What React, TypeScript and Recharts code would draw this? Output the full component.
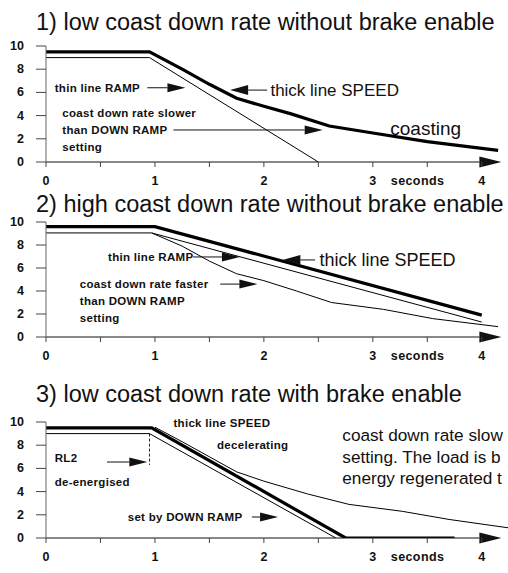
import React from 'react';
import { LineChart, Line, XAxis, YAxis, ReferenceLine, ReferenceDot } from 'recharts';

// time axis (seconds) and speed axis
const xTicks = [0, 0.5, 1, 1.5, 2, 2.5, 3, 3.5, 4];
const yTicks = [0, 2, 4, 6, 8, 10];

// 1) low coast down rate without brake enable
const speed1 = [
  { t: 0, v: 9.5 }, { t: 0.95, v: 9.5 }, { t: 1.25, v: 8.0 }, { t: 1.5, v: 6.7 },
  { t: 1.75, v: 5.5 }, { t: 2.0, v: 4.8 }, { t: 2.25, v: 4.15 }, { t: 2.6, v: 3.1 },
  { t: 3.0, v: 2.5 }, { t: 3.5, v: 1.75 }, { t: 4.15, v: 1.0 },
];
const ramp1 = [{ t: 0, v: 9.0 }, { t: 0.95, v: 9.0 }, { t: 2.5, v: 0 }];

// 2) high coast down rate without brake enable
const speed2 = [{ t: 0, v: 9.6 }, { t: 1.0, v: 9.6 }, { t: 4.0, v: 1.9 }];
const ramp2 = [{ t: 0, v: 9.05 }, { t: 0.97, v: 9.05 }, { t: 4.0, v: 1.3 }];
const coast2 = [
  { t: 0.97, v: 9.05 }, { t: 1.25, v: 7.9 }, { t: 1.5, v: 6.6 }, { t: 1.75, v: 5.5 },
  { t: 2.0, v: 4.9 }, { t: 2.3, v: 4.0 }, { t: 2.62, v: 3.0 }, { t: 3.1, v: 2.4 },
  { t: 3.55, v: 1.6 }, { t: 4.15, v: 0.9 },
];

// 3) low coast down rate with brake enable
const speed3 = [{ t: 0, v: 9.5 }, { t: 0.97, v: 9.5 }, { t: 2.75, v: 0 }, { t: 3.75, v: 0 }];
const ramp3 = [{ t: 0, v: 9.0 }, { t: 0.95, v: 9.0 }, { t: 2.66, v: 0 }];
const coast3 = [
  { t: 1.0, v: 9.55 }, { t: 1.25, v: 8.3 }, { t: 1.5, v: 7.0 }, { t: 1.75, v: 5.7 },
  { t: 2.0, v: 4.9 }, { t: 2.4, v: 3.8 }, { t: 2.78, v: 2.9 }, { t: 3.27, v: 2.3 },
  { t: 3.7, v: 1.6 }, { t: 4.25, v: 0.87 },
];

const ink = '#111';
const FONT = 'Arial, "Liberation Sans", Helvetica, sans-serif';

type Note = { x: number; y: number; text: string; size?: number; bold?: boolean };
type Arrow = { x1: number; y1: number; x2: number; y2: number; head?: number; half?: number };

const notes1: Note[] = [
  { x: 0.08, y: 6.38, text: 'thin line RAMP', bold: true },
  { x: 2.06, y: 6.2, text: 'thick line SPEED', size: 17 },
  { x: 0.15, y: 4.22, text: 'coast down rate slower', bold: true },
  { x: 0.15, y: 2.76, text: 'than DOWN RAMP', bold: true },
  { x: 0.15, y: 1.29, text: 'setting', bold: true },
  { x: 3.16, y: 2.93, text: 'coasting', size: 19 },
];
const arrows1: Arrow[] = [
  { x1: 0.93, y1: 6.4, x2: 1.28, y2: 6.4 },
  { x1: 2.03, y1: 6.2, x2: 1.69, y2: 6.2, half: 5 },
  { x1: 1.17, y1: 2.76, x2: 2.54, y2: 2.76 },
];

const notes2: Note[] = [
  { x: 0.57, y: 6.96, text: 'thin line RAMP', bold: true },
  { x: 2.51, y: 6.7, text: 'thick line SPEED', size: 18 },
  { x: 0.31, y: 4.6, text: 'coast down rate faster', bold: true },
  { x: 0.31, y: 3.13, text: 'than DOWN RAMP', bold: true },
  { x: 0.31, y: 1.65, text: 'setting', bold: true },
];
const arrows2: Arrow[] = [
  { x1: 1.35, y1: 6.96, x2: 1.78, y2: 6.96 },
  { x1: 2.47, y1: 6.7, x2: 2.17, y2: 6.7, half: 5 },
  { x1: 1.6, y1: 4.6, x2: 1.94, y2: 4.6 },
];

// the long note runs off the right edge in the original; keep what shows
const notes3: Note[] = [
  { x: 1.17, y: 9.9, text: 'thick line SPEED', bold: true },
  { x: 1.57, y: 8.0, text: 'decelerating', bold: true },
  { x: 0.08, y: 6.9, text: 'RL2', bold: true },
  { x: 0.08, y: 4.83, text: 'de-energised', bold: true },
  { x: 0.75, y: 1.81, text: 'set by DOWN RAMP', bold: true },
  { x: 2.72, y: 8.88, text: 'coast down rate slow', size: 17.2 },
  { x: 2.72, y: 6.98, text: 'setting. The load is  b', size: 17.2 },
  { x: 2.72, y: 5.17, text: 'energy regenerated t', size: 17.2 },
];
const arrows3: Arrow[] = [
  { x1: 0.56, y1: 6.55, x2: 0.93, y2: 6.55 },
  { x1: 1.89, y1: 1.81, x2: 2.13, y2: 1.81 },
];

const arrowShape = (head = 18, half = 4.5) => (p: any) => {
  const { x1, y1, x2, y2 } = p;
  const dx = x2 - x1;
  const dy = y2 - y1;
  const len = Math.hypot(dx, dy) || 1;
  const ux = dx / len;
  const uy = dy / len;
  const bx = x2 - ux * head;
  const by = y2 - uy * head;
  return (
    <g>
      <line x1={x1} y1={y1} x2={bx} y2={by} stroke={ink} strokeWidth={1} />
      <polygon
        points={`${x2},${y2} ${bx - uy * half},${by + ux * half} ${bx + uy * half},${by - ux * half}`}
        fill={ink}
      />
    </g>
  );
};

const noteShape = (n: Note) => (p: any) => (
  <text
    x={p.cx}
    y={p.cy}
    dominantBaseline="central"
    fontFamily={FONT}
    fontSize={n.size ?? 11.5}
    fontWeight={n.bold ? 'bold' : 'normal'}
    letterSpacing={n.bold ? 0.3 : 0}
    fill={ink}
  >
    {n.text}
  </text>
);

function XTick({ x, y, payload }: any) {
  const v = payload.value;
  if (!Number.isInteger(v)) return null;
  return (
    <g fontFamily={FONT} fontWeight="bold" fontSize={12.5} fill={ink}>
      <text x={x} y={y + 12} textAnchor="middle" dominantBaseline="central">{v}</text>
      {v === 3 && (
        <text x={x + 18} y={y + 12} dominantBaseline="central" letterSpacing={0.4}>seconds</text>
      )}
    </g>
  );
}

function YTick({ x, y, payload }: any) {
  return (
    <text x={x - 10} y={y} textAnchor="end" dominantBaseline="central"
      fontFamily={FONT} fontWeight="bold" fontSize={12.5} fill={ink}>
      {payload.value}
    </text>
  );
}

type Series = { data: { t: number; v: number }[]; thick?: boolean };

function Panel({ top, height, marginTop, series, notes, arrows, extra }: {
  top: number; height: number; marginTop: number; series: Series[];
  notes: Note[]; arrows: Arrow[]; extra?: React.ReactNode;
}) {
  return (
    <div style={{ position: 'absolute', left: 0, top }}>
      <LineChart width={509} height={height} margin={{ top: marginTop, right: 0, bottom: 0, left: 0 }}>
        <XAxis type="number" dataKey="t" domain={[0, 4.25]} ticks={xTicks} interval={0}
          allowDataOverflow axisLine={false} tickSize={5} tickLine={{ stroke: '#444' }}
          tick={<XTick />} height={30} />
        <YAxis type="number" domain={[0, 10]} ticks={yTicks} interval={0} allowDataOverflow
          width={46} tickSize={10} axisLine={{ stroke: '#666' }} tickLine={{ stroke: '#444' }}
          tick={<YTick />} />
        {series.map((s, i) => (
          <Line key={i} data={s.data} dataKey="v" type="linear" stroke="#000"
            strokeWidth={s.thick ? 3.2 : 1} dot={false} activeDot={false}
            isAnimationActive={false} />
        ))}
        <ReferenceLine segment={[{ x: 0, y: 0 }, { x: 4.18, y: 0 }]} ifOverflow="visible"
          shape={arrowShape(22, 5.5)} />
        {extra}
        {arrows.map((a, i) => (
          <ReferenceLine key={`a${i}`} segment={[{ x: a.x1, y: a.y1 }, { x: a.x2, y: a.y2 }]}
            ifOverflow="visible" shape={arrowShape(a.head, a.half)} />
        ))}
        {notes.map((n, i) => (
          <ReferenceDot key={`n${i}`} x={n.x} y={n.y} ifOverflow="visible" shape={noteShape(n)} />
        ))}
      </LineChart>
    </div>
  );
}

const titleStyle = (top: number): React.CSSProperties => ({
  position: 'absolute', left: 36, top, fontFamily: FONT, fontSize: 23.5,
  lineHeight: '23.5px', whiteSpace: 'nowrap', color: ink,
});

export default function App() {
  return (
    <div style={{ position: 'absolute', left: 0, top: 0, width: 508, height: 573,
      background: '#fff', overflow: 'hidden' }}>
      <Panel top={0} height={192} marginTop={46}
        series={[{ data: ramp1 }, { data: speed1, thick: true }]}
        notes={notes1} arrows={arrows1} />
      <Panel top={195} height={172} marginTop={27}
        series={[{ data: ramp2 }, { data: coast2 }, { data: speed2, thick: true }]}
        notes={notes2} arrows={arrows2} />
      <Panel top={380} height={188} marginTop={42}
        series={[{ data: ramp3 }, { data: coast3 }, { data: speed3, thick: true }]}
        notes={notes3} arrows={arrows3}
        extra={
          <ReferenceLine segment={[{ x: 0.95, y: 9.0 }, { x: 0.95, y: 6.3 }]}
            stroke="#222" strokeDasharray="3 2" ifOverflow="visible" />
        } />
      <div style={titleStyle(11)}>1) low coast down rate without brake enable</div>
      <div style={titleStyle(193)}>2) high coast down rate without brake enable</div>
      <div style={titleStyle(383)}>3) low coast down rate with brake enable</div>
    </div>
  );
}
